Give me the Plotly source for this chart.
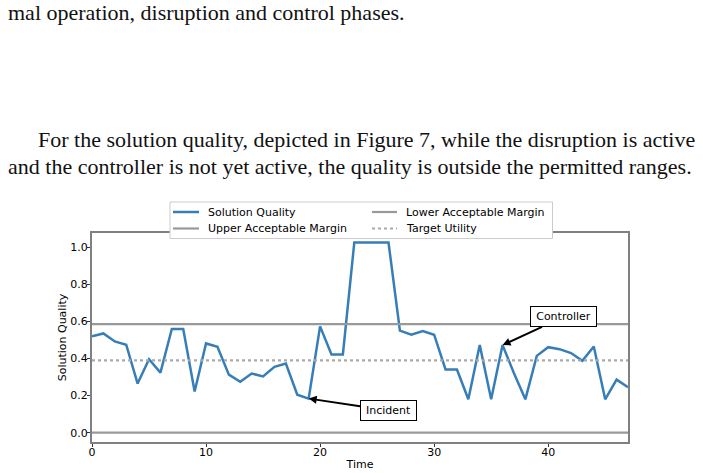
import plotly.graph_objects as go

time = list(range(48))
quality = [0.519, 0.535, 0.492, 0.474, 0.265, 0.396, 0.324, 0.559, 0.559, 0.222,
           0.481, 0.463, 0.313, 0.274, 0.319, 0.303, 0.355, 0.373, 0.205, 0.184,
           0.573, 0.422, 0.422, 1.025, 1.025, 1.025, 1.025, 0.550, 0.528, 0.548,
           0.528, 0.341, 0.341, 0.180, 0.472, 0.180, 0.472, 0.321, 0.180, 0.414,
           0.461, 0.450, 0.429, 0.387, 0.465, 0.180, 0.286, 0.245]
upper_margin = 0.585
lower_margin = 0.0
target_utility = 0.39

incident_t, incident_label = 19, "Incident"
controller_t, controller_label = 36, "Controller"

legend_names = ["Solution Quality", "Upper Acceptable Margin",
                "Lower Acceptable Margin", "Target Utility"]

paper_lines = [
    "mal operation, disruption and control phases.",
    "For the solution quality, depicted in Figure 7, while the disruption is active",
    "and the controller is not yet active, the quality is outside the permitted ranges.",
]

W, H = 703, 473
L, R, T, B = 92, 75, 233, 31
pw, ph = W - L - R, H - T - B

def px(x):
    return (x - L) / pw

def py(y):
    return (H - B - y) / ph

BLUE = "#377eb8"
GRAY = "#999999"

fig = go.Figure()
fig.add_trace(go.Scatter(x=time, y=quality, mode="lines", name=legend_names[0],
                         line=dict(color=BLUE, width=2.5)))
fig.add_trace(go.Scatter(x=[time[0], time[-1]], y=[upper_margin] * 2, mode="lines",
                         name=legend_names[1], line=dict(color=GRAY, width=2.2)))
fig.add_trace(go.Scatter(x=[time[0], time[-1]], y=[lower_margin] * 2, mode="lines",
                         name=legend_names[2], line=dict(color=GRAY, width=2.2)))
fig.add_trace(go.Scatter(x=[time[0], time[-1]], y=[target_utility] * 2, mode="lines",
                         name=legend_names[3], line=dict(color="#aaaaaa", width=2.2, dash="dot")))

ann = []
# surrounding paper text
text_pos = [(6, 13), (36, 139), (6, 166)]
for txt, (xpx, ypx) in zip(paper_lines, text_pos):
    ann.append(dict(text=txt, xref="paper", yref="paper", x=px(xpx), y=py(ypx),
                    xanchor="left", yanchor="middle", showarrow=False,
                    font=dict(family="Liberation Serif", size=22, color="#111")))

box_style = dict(bordercolor="black", borderwidth=1, borderpad=3, bgcolor="white",
                 font=dict(family="DejaVu Sans", size=11, color="black"),
                 showarrow=True, arrowhead=2, arrowsize=0.8, arrowwidth=2, arrowcolor="black")
ann.append(dict(x=incident_t, y=quality[incident_t], xref="x", yref="y",
                ax=25.96, ay=0.12, axref="x", ayref="y", text=incident_label,
                width=49, **box_style))
ann.append(dict(x=controller_t, y=quality[controller_t], xref="x", yref="y",
                ax=41.37, ay=0.624, axref="x", ayref="y", text=controller_label,
                width=59, **box_style))

# compact legend drawn to match the original legend box
shapes = [dict(type="rect", xref="paper", yref="paper", x0=px(170), x1=px(552.5),
               y0=py(238.5), y1=py(202), line=dict(color="#cccccc", width=1),
               fillcolor="white", layer="above")]
legend_items = [
    (legend_names[0], 173, 199, 206, 212, dict(color=BLUE, width=2.5)),
    (legend_names[1], 173, 199, 206, 228.5, dict(color=GRAY, width=2.2)),
    (legend_names[2], 372, 397, 403.5, 212, dict(color=GRAY, width=2.2)),
    (legend_names[3], 372, 397, 403.5, 228.5, dict(color="#aaaaaa", width=2.2, dash="dot")),
]
for name, x0, x1, tx, yy, ln in legend_items:
    shapes.append(dict(type="line", xref="paper", yref="paper", x0=px(x0), x1=px(x1),
                       y0=py(yy), y1=py(yy), line=ln, layer="above"))
    ann.append(dict(text=name, xref="paper", yref="paper", x=px(tx), y=py(yy),
                    xanchor="left", yanchor="middle", showarrow=False,
                    font=dict(family="DejaVu Sans", size=11, color="black")))

fig.update_layout(
    width=W, height=H,
    margin=dict(l=L, r=R, t=T, b=B, autoexpand=False),
    plot_bgcolor="white", paper_bgcolor="white",
    font=dict(family="DejaVu Sans", size=11, color="black"),
    showlegend=False,
    annotations=ann,
    shapes=shapes,
    xaxis=dict(range=[0, 47], tickvals=[0, 10, 20, 30, 40], showgrid=False, zeroline=False,
               showline=True, linecolor="#808080", linewidth=2, mirror=True,
               ticks="outside", ticklen=3, tickcolor="#333", automargin=False,
               ticklabelstandoff=-4,
               title=dict(text="Time", standoff=2, font=dict(size=11))),
    yaxis=dict(range=[-0.05, 1.076], tickvals=[0, 0.2, 0.4, 0.6, 0.8, 1.0], tickformat=".1f",
               showgrid=False, zeroline=False, automargin=False,
               showline=True, linecolor="#808080", linewidth=2, mirror=True,
               ticks="outside", ticklen=3, tickcolor="#333",
               ticklabelstandoff=-3,
               title=dict(text="Solution Quality", standoff=1, font=dict(size=11))),
)
fig.write_html("out.html")
